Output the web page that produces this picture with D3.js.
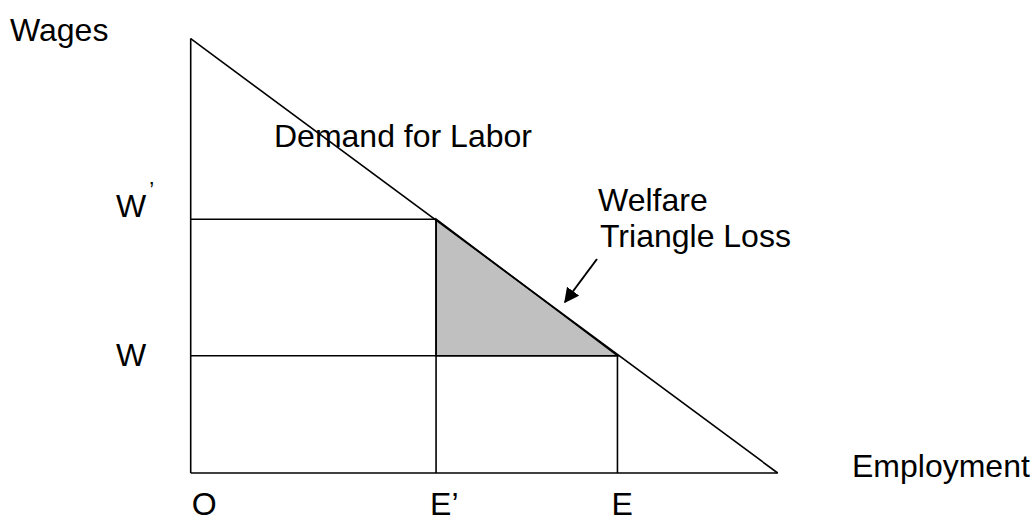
<!DOCTYPE html>
<html>
<head>
<meta charset="utf-8">
<script src="https://cdn.jsdelivr.net/npm/d3@7"></script>
<style>
  body { margin: 0; background: #fff; }
  text { font-family: "Liberation Sans", Arial, sans-serif; font-size: 32px; fill: #000; }
</style>
</head>
<body>
<svg width="1036" height="522"></svg>
<script>
// employment levels on the x axis (0 = origin, 100 = where demand hits the axis)
var empNames = ["O", "E’", "E"];
var empValues = [0, 41.8, 72.7];

// wage levels on the y axis
var wageNames = ["W", "W"];
var wageValues = [27.4, 59.3];

// demand curve end points
var demandEmp = [0, 100];
var demandWage = [101.5, 0];

var svg = d3.select("svg");

var x = d3.scaleLinear().domain([0, 100]).range([190.7, 777.7]);
var y = d3.scaleLinear().domain([0, 100]).range([473, 45]);

var eP = empValues[1], e = empValues[2];
var w = wageValues[0], wP = wageValues[1];

// shaded welfare loss triangle
svg.append("path")
    .attr("d", d3.line()([[x(eP), y(wP)], [x(eP), y(w)], [x(e), y(w)]]) + "Z")
    .attr("fill", "#c0c0c0")
    .attr("stroke", "#000")
    .attr("stroke-width", 1.6);

// axes and guide lines
var segs = [
  [[0, 0], [0, demandWage[0]]],
  [[0, 0], [100, 0]],
  [[0, wP], [eP, wP]],
  [[eP, 0], [eP, wP]],
  [[0, w], [e, w]],
  [[e, 0], [e, w]],
  [[demandEmp[0], demandWage[0]], [demandEmp[1], demandWage[1]]]
];

svg.selectAll("line.seg")
    .data(segs)
    .enter().append("line")
    .attr("class", "seg")
    .attr("x1", d => x(d[0][0]))
    .attr("y1", d => y(d[0][1]))
    .attr("x2", d => x(d[1][0]))
    .attr("y2", d => y(d[1][1]))
    .attr("stroke", "#000")
    .attr("stroke-width", 1.6);

// arrow to the triangle
svg.append("defs").append("marker")
    .attr("id", "head")
    .attr("viewBox", "0 0 10 10")
    .attr("refX", 9).attr("refY", 5)
    .attr("markerWidth", 7.5).attr("markerHeight", 7.5)
    .attr("markerUnits", "strokeWidth")
    .attr("orient", "auto")
  .append("path")
    .attr("d", "M0,0L10,5L0,10Z")
    .attr("fill", "#000");

svg.append("line")
    .attr("x1", 597).attr("y1", 259)
    .attr("x2", 565).attr("y2", 302)
    .attr("stroke", "#000")
    .attr("stroke-width", 2)
    .attr("marker-end", "url(#head)");

// x labels
svg.selectAll("text.emp")
    .data(empNames)
    .enter().append("text")
    .attr("class", "emp")
    .attr("x", (d, i) => x(empValues[i]) - (i == 0 ? -1 : 6))
    .attr("y", 515)
    .text(d => d);

// y labels
var wl = svg.selectAll("text.wage")
    .data(wageNames)
    .enter().append("text")
    .attr("class", "wage")
    .attr("x", 116)
    .attr("y", (d, i) => y(wageValues[i]) + (i == 0 ? 10 : -2))
    .text(d => d);
wl.filter((d, i) => i == 1).append("tspan")
    .attr("dx", 3).attr("dy", -20)
    .style("font-size", "22px")
    .text("’");

svg.append("text").attr("x", 10).attr("y", 41).text("Wages");
svg.append("text").attr("x", 852).attr("y", 477).text("Employment");
svg.append("text").attr("x", 274).attr("y", 147).text("Demand for Labor");
svg.append("text").attr("x", 598).attr("y", 211).text("Welfare");
svg.append("text").attr("x", 600).attr("y", 247).text("Triangle Loss");
</script>
</body>
</html>
